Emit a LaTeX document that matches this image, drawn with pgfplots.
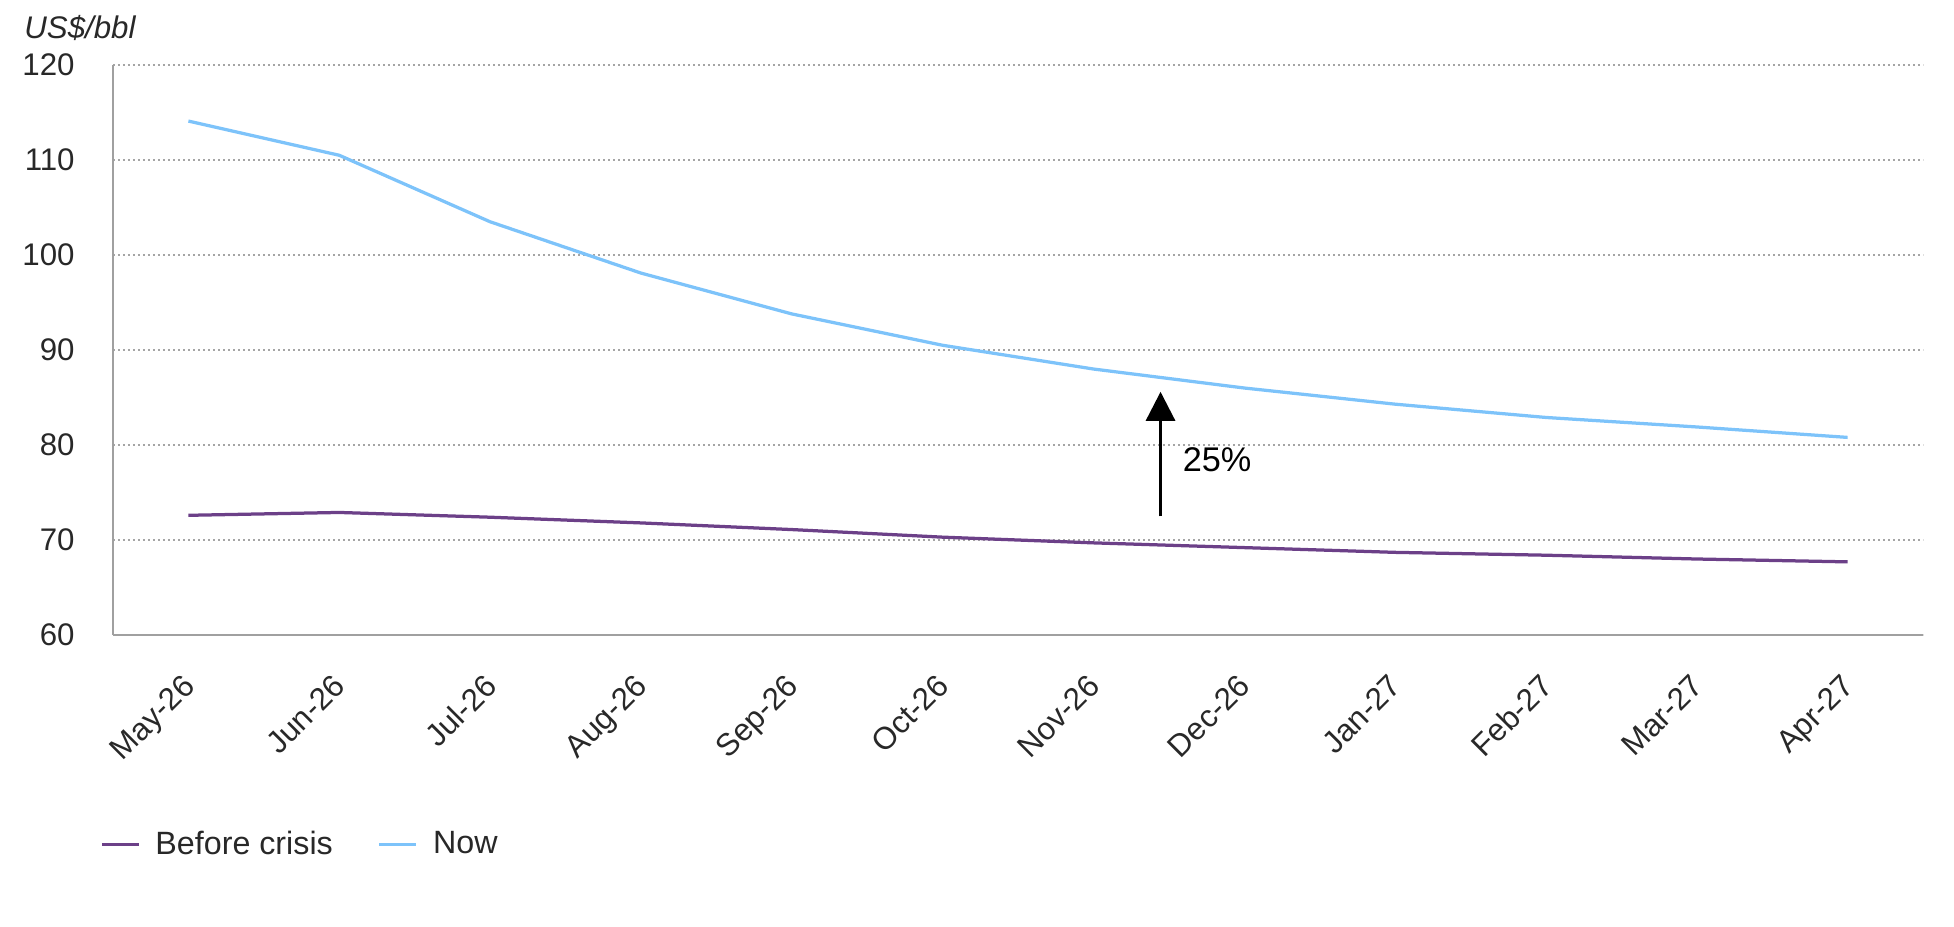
\documentclass[border=0pt]{standalone}
\usepackage{pgfplots}
\pgfplotsset{compat=1.18}
\usepackage{fontspec}
\setmainfont{Liberation Sans}
\usetikzlibrary{arrows.meta}

\definecolor{crisis}{RGB}{108,64,136}
\definecolor{nowblue}{RGB}{125,195,250}
\definecolor{gridgray}{RGB}{165,165,165}
\definecolor{axisgray}{RGB}{160,160,160}
\definecolor{txt}{RGB}{40,40,40}

\begin{document}
\fontsize{12.5}{15}\selectfont
\begin{tikzpicture}
\path[use as bounding box] (0,0) rectangle (781.6pt,370.4pt);
\begin{axis}[
    at={(45.2pt,116.4pt)}, anchor=south west,
    scale only axis,
    width=724pt, height=228pt,
    xmin=-0.5, xmax=11.5,
    ymin=60, ymax=120,
    ytick={60,70,...,120},
    xtick={0,...,11},
    xticklabels={May-26,Jun-26,Jul-26,Aug-26,Sep-26,Oct-26,Nov-26,Dec-26,Jan-27,Feb-27,Mar-27,Apr-27},
    axis x line*=bottom, axis y line*=left,
    axis line style={axisgray, line width=1pt, -},
    major tick length=0,
    ymajorgrids, grid style={gridgray, line width=0.7pt, dash pattern=on 0.7pt off 1.3pt},
    tick label style={txt, font=\fontsize{12.5}{15}\selectfont},
    yticklabel style={xshift=-11pt},
    xticklabel style={xshift=-3pt, yshift=-8.8pt, rotate=45, anchor=north east},
    /pgf/number format/assume math mode=true,
    clip=false,
    legend columns=2,
    legend style={at={(axis description cs:-0.0115,-0.368)}, anchor=west, draw=none, fill=none,
        font=\fontsize{12.9}{15}\selectfont, text=txt,
        /tikz/every even column/.append style={column sep=16pt}},
    legend image code/.code={\draw[#1, line width=1.3pt] (0pt,0pt) -- (14.8pt,0pt); \path (18.8pt,0pt);},
]
\addplot[crisis, line width=1.3pt] coordinates {
    (0,72.6) (1,72.9) (2,72.4) (3,71.8) (4,71.1) (5,70.3)
    (6,69.7) (7,69.2) (8,68.7) (9,68.4) (10,68.0) (11,67.7)};
\addlegendentry{Before crisis}
\addplot[nowblue, line width=1.3pt] coordinates {
    (0,114.1) (1,110.5) (2,103.5) (3,98.1) (4,93.8) (5,90.5)
    (6,88.0) (7,86.0) (8,84.3) (9,82.9) (10,81.9) (11,80.8)};
\addlegendentry{Now}
\draw[-{Triangle[width=11.6pt,length=11.6pt]}, line width=1.2pt] (axis cs:6.445,72.5) -- (axis cs:6.445,85.6);
\node[anchor=west, font=\fontsize{13.7}{16}\selectfont] at (axis cs:6.52,78.5) {25\%};
\node[anchor=west, txt, font=\fontsize{12.5}{15}\selectfont\itshape] at (axis description cs:-0.055,1.065) {US\$/bbl};
\end{axis}
\end{tikzpicture}
\end{document}
